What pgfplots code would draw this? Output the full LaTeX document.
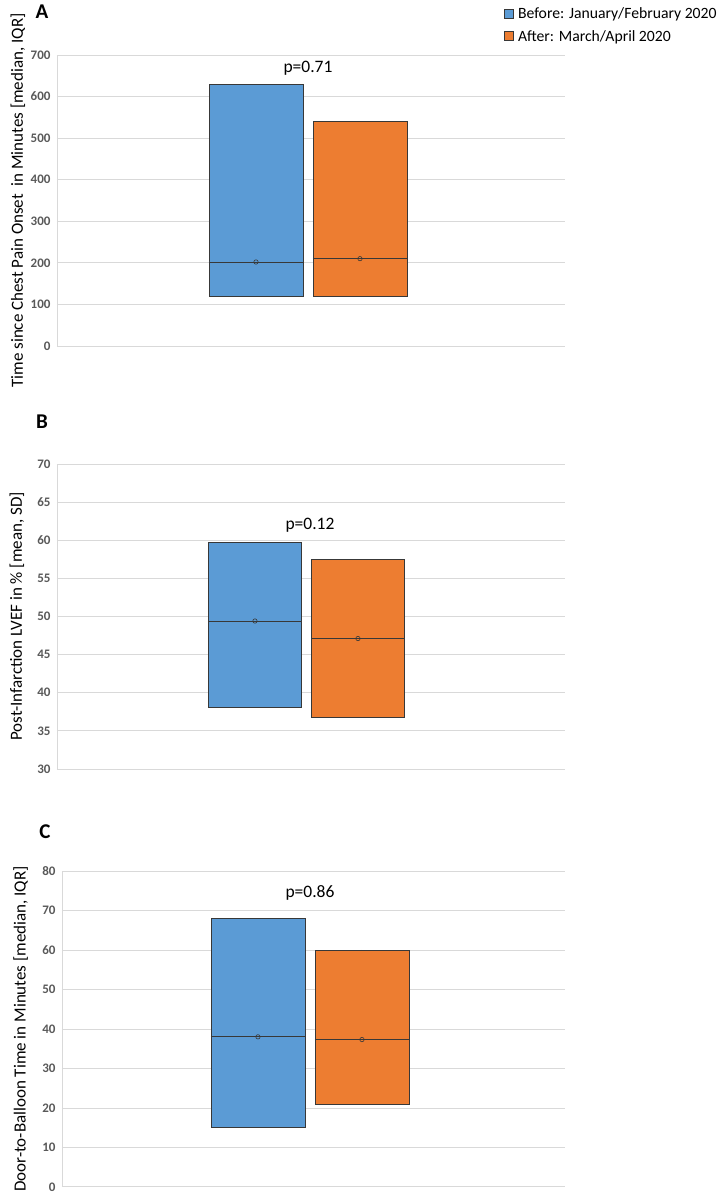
\documentclass[border=0pt]{standalone}
\usepackage{pgfplots}
\pgfplotsset{compat=1.18}
\usepgfplotslibrary{statistics}
\usepackage{fontspec}
\setmainfont{Carlito}

\definecolor{cblue}{HTML}{5B9BD5}
\definecolor{corange}{HTML}{ED7D31}
\definecolor{gridgray}{HTML}{D9D9D9}
\definecolor{ticktext}{HTML}{595959}
\definecolor{edge}{HTML}{383838}

\tikzset{pval/.style={font=\fontsize{17.5}{19}\selectfont}}

\pgfplotsset{
  panel/.style={
    scale only axis, xmin=0,
    axis x line*=bottom, axis y line*=left,
    axis line style={draw=gridgray, line width=0.8pt, -},
    xtick=\empty, ymajorgrids,
    grid style={gridgray, line width=0.8pt},
    major tick length=0pt,
    tick label style={font=\fontsize{13}{14}\selectfont\bfseries, text=ticktext},
    yticklabel style={xshift=-3pt},
    /pgf/number format/assume math mode=true,
    ylabel style={font=\fontsize{17}{19}\selectfont, anchor=center},
    boxplot/draw direction=y,
    boxplot/whisker extend=0,
    clip=false,
  },
  bbox/.style={boxplot prepared={#1}, draw=edge, line width=0.8pt, forget plot},
  meanmark/.style={only marks, mark=o, mark size=2.2pt, draw=edge, mark options={line width=0.6pt}, forget plot},
}

\begin{document}
\begin{tikzpicture}
\path (0pt,0pt) rectangle (719pt,1195pt);

% panel letters
\node[font=\fontsize{21}{23}\selectfont\bfseries] at (42pt,1183pt) {A};
\node[font=\fontsize{21}{23}\selectfont\bfseries] at (42pt,773pt) {B};
\node[font=\fontsize{21}{23}\selectfont\bfseries] at (45pt,363pt) {C};

% A: time since chest pain onset
\begin{axis}[panel, at={(57pt,849pt)}, anchor=south west,
  width=508pt, height=291pt, xmax=508,
  ymin=0, ymax=700, ytick={0,100,...,700},
  ylabel={Time since Chest Pain Onset\ \ in Minutes [median, IQR]},
  ylabel style={at={(axis description cs:-0.077,0.5)}},
  legend style={at={(axis description cs:0.879,1.17)}, anchor=north west,
    draw=none, fill=none, inner sep=0pt, row sep=6pt,
    font=\fontsize{15.7}{17}\selectfont},
  legend cell align=left,
  legend image code/.code={\draw[#1, line width=0.7pt] (0pt,-4.5pt) rectangle (9pt,4.5pt);
    \path[draw=none, fill=none] (9pt,0pt) -- (12pt,0pt);},
]
\addlegendimage{fill=cblue, draw=edge}
\addlegendentry{Before: January/February 2020}
\addlegendimage{fill=corange, draw=edge}
\addlegendentry{After: March/April 2020}
\addplot[bbox={draw position=199, box extend=94, median=202,
  lower quartile=120, upper quartile=630, lower whisker=120, upper whisker=630},
  fill=cblue] coordinates {};
\addplot[bbox={draw position=303, box extend=94, median=210,
  lower quartile=120, upper quartile=540, lower whisker=120, upper whisker=540},
  fill=corange] coordinates {};
\addplot[meanmark] coordinates {(199,202) (303,210)};
\node[pval] at (axis cs:251,668) {p=0.71};
\end{axis}

% B: post-infarction LVEF
\begin{axis}[panel, at={(57pt,426pt)}, anchor=south west,
  width=508pt, height=305pt, xmax=508,
  ymin=30, ymax=70, ytick={30,35,...,70},
  ylabel={Post-Infarction LVEF in \% [mean, SD]},
  ylabel style={at={(axis description cs:-0.079,0.5)}},
]
\addplot[bbox={draw position=198, box extend=93, median=49.4,
  lower quartile=38.1, upper quartile=59.7, lower whisker=38.1, upper whisker=59.7},
  fill=cblue] coordinates {};
\addplot[bbox={draw position=301, box extend=93, median=47.1,
  lower quartile=36.7, upper quartile=57.5, lower whisker=36.7, upper whisker=57.5},
  fill=corange] coordinates {};
\addplot[meanmark] coordinates {(198,49.4) (301,47.1)};
\node[pval] at (axis cs:253,62.0) {p=0.12};
\end{axis}

% C: door-to-balloon time
\begin{axis}[panel, at={(62pt,8pt)}, anchor=south west,
  width=503pt, height=316pt, xmax=503,
  ymin=0, ymax=80, ytick={0,10,...,80},
  ylabel={Door-to-Balloon Time in Minutes [median, IQR]},
  ylabel style={at={(axis description cs:-0.082,0.5)}},
]
\addplot[bbox={draw position=196, box extend=94, median=38,
  lower quartile=15, upper quartile=68, lower whisker=15, upper whisker=68},
  fill=cblue] coordinates {};
\addplot[bbox={draw position=300, box extend=94, median=37.3,
  lower quartile=21, upper quartile=60, lower whisker=21, upper whisker=60},
  fill=corange] coordinates {};
\addplot[meanmark] coordinates {(196,38) (300,37.3)};
\node[pval] at (axis cs:248,74.5) {p=0.86};
\end{axis}
\end{tikzpicture}
\end{document}
